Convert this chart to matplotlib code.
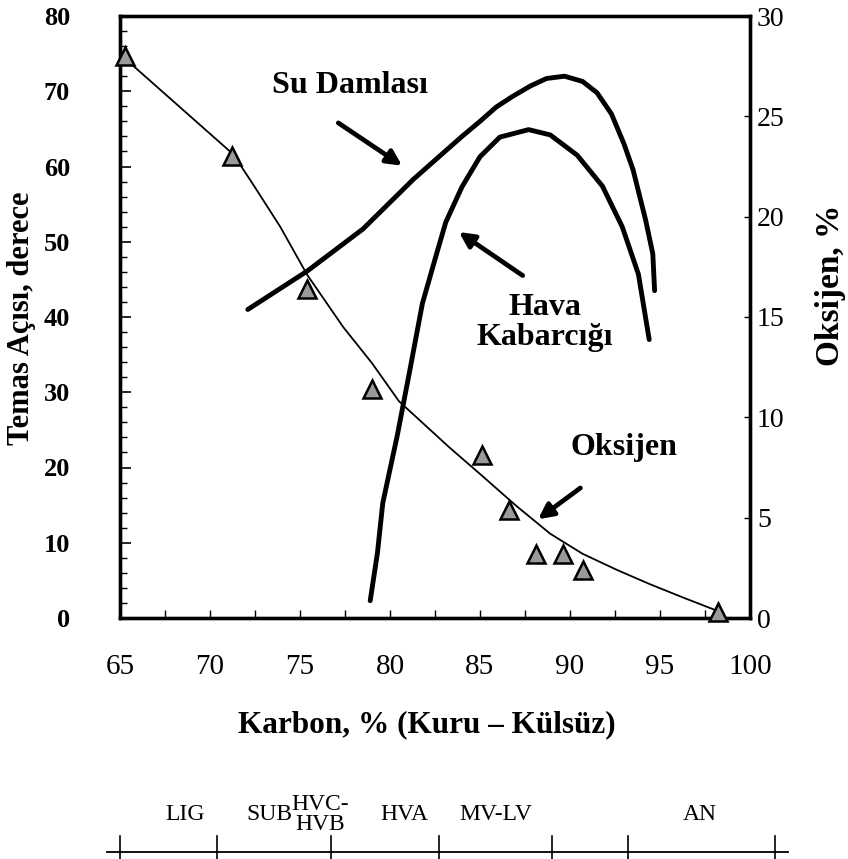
import numpy as np
import matplotlib.pyplot as plt
from matplotlib.ticker import MultipleLocator

plt.rcParams['font.family'] = ['Liberation Serif', 'DejaVu Serif']

# Oxygen curve (right axis, %)
oks_x = [65.0, 71.3, 72.4, 73.9, 75.4, 77.4, 79.0, 80.5, 83.3, 85.1, 87.0, 88.9, 90.7, 92.6, 94.4, 96.2, 98.2]
oks_y = [28.1, 23.1, 21.6, 19.5, 17.1, 14.5, 12.7, 10.8, 8.5, 7.1, 5.6, 4.2, 3.2, 2.4, 1.7, 1.05, 0.35]

# Oxygen measured points (triangles)
tri_x = [65.3, 71.2, 75.4, 79.0, 85.1, 86.6, 88.1, 89.6, 90.7, 98.2]
tri_y = [28.0, 23.0, 16.4, 11.4, 8.1, 5.4, 3.2, 3.2, 2.4, 0.3]

# Contact angle, water drop (left axis, degrees)
su_x = [72.1, 75.4, 78.5, 81.3, 84.0, 85.0, 85.9, 86.8, 87.8, 88.7, 89.7, 90.7, 91.5, 92.3, 93.0, 93.5, 94.2, 94.6, 94.7]
su_y = [41.0, 46.1, 51.7, 58.3, 64.0, 66.0, 67.9, 69.3, 70.7, 71.7, 72.0, 71.3, 69.8, 67.0, 63.0, 59.6, 52.9, 48.4, 43.5]

# Contact angle, air bubble
hava_x = [78.9, 79.3, 79.6, 80.4, 81.1, 81.8, 82.6, 83.1, 84.0, 85.0, 86.1, 87.7, 88.9, 90.4, 91.8, 92.9, 93.8, 94.4]
hava_y = [2.3, 8.6, 15.3, 24.2, 32.9, 41.8, 48.5, 52.6, 57.3, 61.3, 63.9, 64.9, 64.2, 61.5, 57.4, 52.0, 45.7, 37.0]

# Coal rank bar
rank_bounds = [65.0, 70.4, 76.7, 82.7, 89.0, 93.2, 101.4]
rank_labels = ['LIG', 'SUB', 'HVC-\nHVB', 'HVA', 'MV-LV', 'AN']
rank_label_x = [68.6, 73.3, 76.1, 80.8, 85.9, 97.2]

fig = plt.figure(figsize=(8.48, 8.59), dpi=100)
ax = fig.add_axes([120/848, 1 - 618/859, 630/848, 602/859])
ax2 = ax.twinx()

ax.plot(su_x, su_y, color='black', lw=3.5, solid_capstyle='round', solid_joinstyle='round')
ax.plot(hava_x, hava_y, color='black', lw=3.5, solid_capstyle='round', solid_joinstyle='round')
ax2.plot(oks_x, oks_y, color='black', lw=1.3)
ax2.plot(tri_x, tri_y, ls='none', marker='^', ms=13, mfc='#9a9a9a',
         mec='black', mew=1.8, clip_on=False, zorder=5)

ax.set_xlim(65, 100)
ax.set_ylim(0, 80)
ax2.set_ylim(0, 30)

for a in (ax, ax2):
    for s in a.spines.values():
        s.set_linewidth(2.4)

ax.xaxis.set_major_locator(MultipleLocator(5))
ax.xaxis.set_minor_locator(MultipleLocator(2.5))
ax.yaxis.set_major_locator(MultipleLocator(10))
ax.yaxis.set_minor_locator(MultipleLocator(2))
ax2.yaxis.set_major_locator(MultipleLocator(5))

ax.tick_params(axis='y', which='major', direction='in', length=8, width=1.2, pad=36, labelsize=19)
ax.tick_params(axis='y', which='minor', direction='in', length=5, width=1)
ax.tick_params(axis='x', which='both', direction='in', length=6, width=1, pad=26, labelsize=21)
ax2.tick_params(axis='y', which='major', direction='in', length=4, width=1, pad=5, labelsize=20)
for lab in ax.get_yticklabels():
    lab.set_fontweight('bold')

fig.text(22/848, 1 - 318/859, 'Temas Açısı, derece', rotation=90, ha='center', va='center',
         fontsize=22, fontweight='bold')
fig.text(830/848, 1 - 285/859, 'Oksijen, %', rotation=90, ha='center', va='center',
         fontsize=24, fontweight='bold')
fig.text(427/848, 1 - 725/859, 'Karbon, % (Kuru – Külsüz)', ha='center', va='center',
         fontsize=22.5, fontweight='bold')

arrow = dict(arrowstyle='-|>,head_length=0.9,head_width=0.45', color='black', lw=3.4)
ax.annotate('', xy=(80.8, 59.9), xytext=(77.0, 66.0), arrowprops=arrow)
ax.annotate('', xy=(83.7, 51.5), xytext=(87.5, 45.3), arrowprops=arrow)
ax.annotate('', xy=(88.1, 12.9), xytext=(90.7, 17.5), arrowprops=arrow)

ax.text(77.8, 70.7, 'Su Damlası', ha='center', va='center', fontsize=23, fontweight='bold')
ax.text(88.6, 39.3, 'Hava\nKabarcığı', ha='center', va='center', fontsize=23,
        fontweight='bold', linespacing=1.05)
ax.text(93.0, 22.7, 'Oksijen', ha='center', va='center', fontsize=23, fontweight='bold')

# rank bar below the chart
rax = fig.add_axes([120/848, 0, 630/848, 79/859])
rax.set_xlim(65, 100)
rax.set_ylim(0, 1)
rax.axis('off')
rax.plot([64.3, 102.1], [0.09, 0.09], color='black', lw=1.3, clip_on=False)
for b in rank_bounds:
    rax.plot([b, b], [0.0, 0.29], color='black', lw=1.2, clip_on=False)
for lx, lab in zip(rank_label_x, rank_labels):
    rax.text(lx, 0.56, lab, ha='center', va='center', fontsize=17, linespacing=0.95,
             clip_on=False)

fig.savefig('out.png', dpi=100)
